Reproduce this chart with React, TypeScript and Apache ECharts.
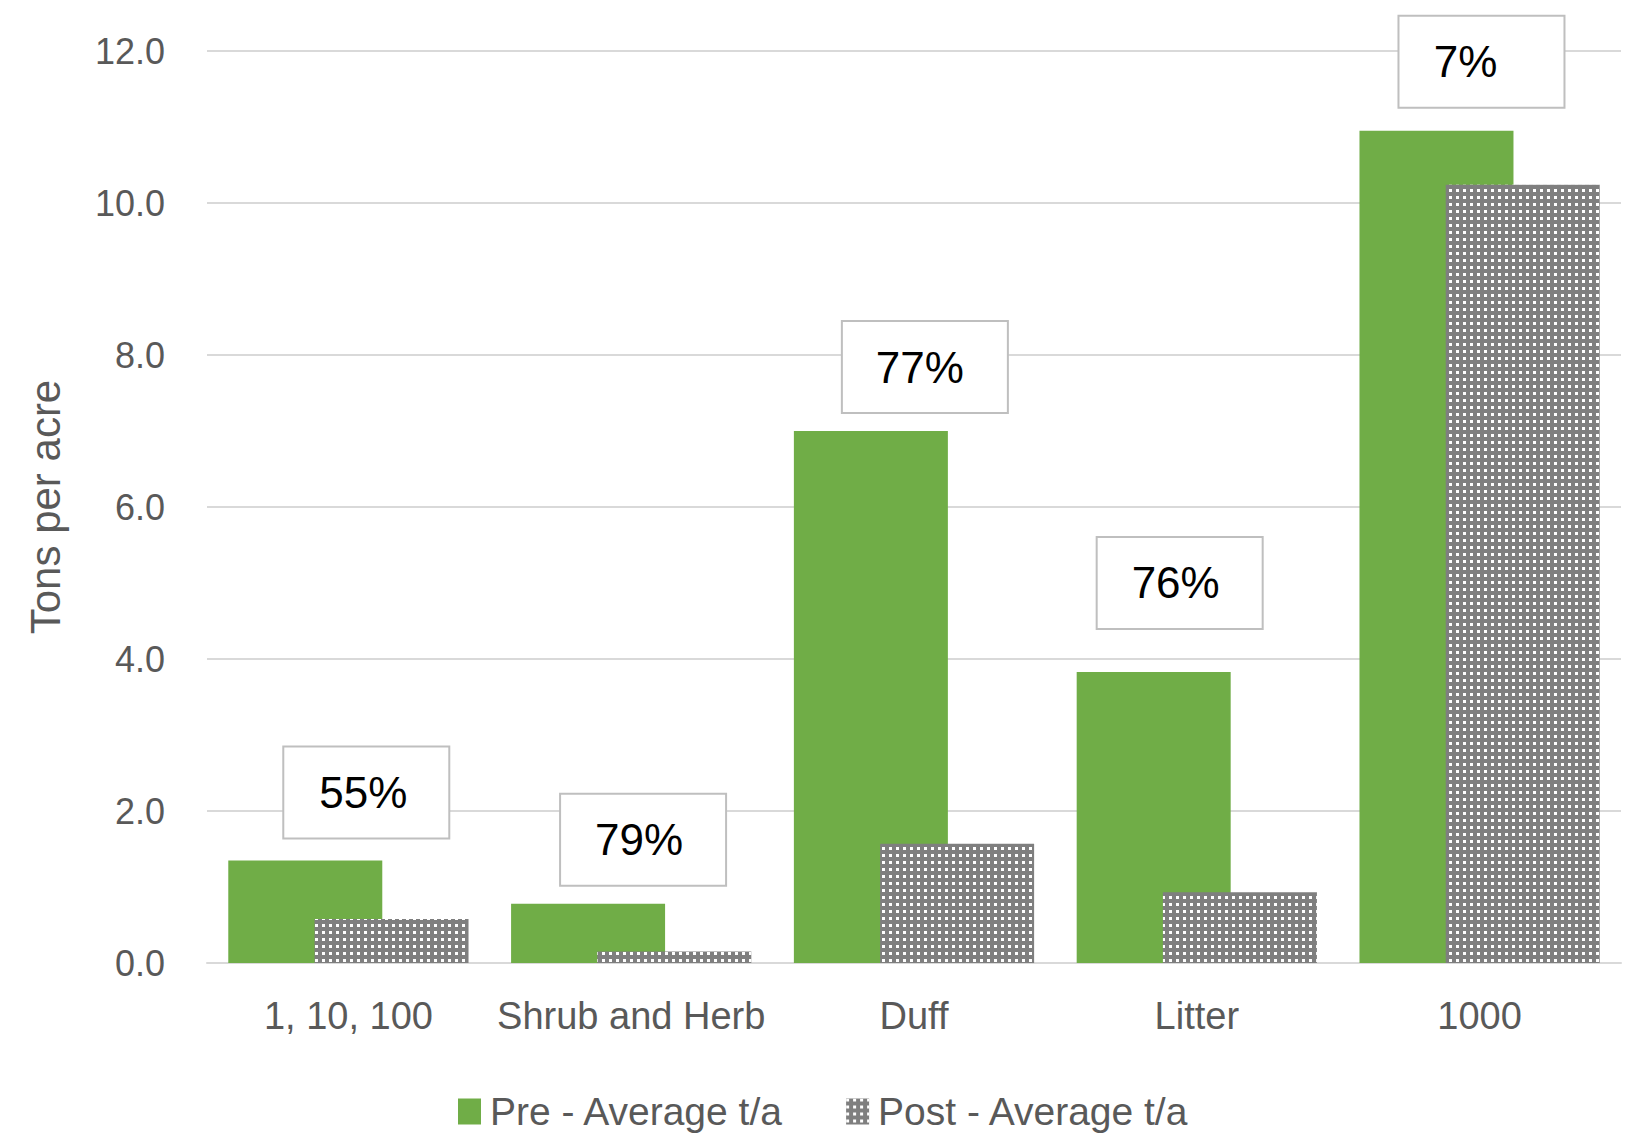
import React, { useEffect, useRef } from "react";
import * as echarts from "echarts";

const categories = ["1, 10, 100", "Shrub and Herb", "Duff", "Litter", "1000"];
const preValues = [1.35, 0.78, 7.0, 3.83, 10.95];
const postValues = [0.58, 0.15, 1.57, 0.93, 10.24];
const reductionLabels = ["55%", "79%", "77%", "76%", "7%"];
const yTicks = { min: 0, max: 12, interval: 2 };
const seriesNames = ["Pre - Average t/a", "Post - Average t/a"];

// label box placement (offset from top-centre of the green bar)
const labelOffsets: [number, number][] = [
  [61, -23],
  [55, -19],
  [54, -19],
  [26, -44],
  [45, -24],
];
// shift of the text to the left inside its box
const textShifts = [3, 4, 5, 4, 16];

const FONT = "'Liberation Sans', Arial, sans-serif";
const BOX_W = 164;

export default function App() {
  const ref = useRef<HTMLDivElement>(null);
  useEffect(() => {
    if (!ref.current) return;
    const chart = echarts.init(ref.current, undefined, { renderer: "svg" });
    chart.setOption({
      animation: false,
      backgroundColor: "#ffffff",
      textStyle: { fontFamily: FONT },
      grid: { left: 207, right: 7, top: 51, bottom: 171, containLabel: false },
      legend: {
        data: seriesNames.map((n) => ({ name: n, icon: "rect" })),
        left: 458,
        top: 1092,
        itemWidth: 23,
        itemHeight: 26,
        itemGap: 62,
        padding: 0,
        textStyle: { fontSize: 39, color: "#595959", fontFamily: FONT, padding: [0, 0, 0, 4] },
      },
      xAxis: {
        type: "category",
        data: categories,
        axisLine: { lineStyle: { color: "#d9d9d9", width: 2 } },
        axisTick: { show: false },
        axisLabel: { fontSize: 38, color: "#595959", margin: 34, fontFamily: FONT, interval: 0 },
      },
      yAxis: {
        type: "value",
        min: yTicks.min,
        max: yTicks.max,
        interval: yTicks.interval,
        name: "Tons per acre",
        nameLocation: "middle",
        nameGap: 141,
        nameRotate: 90,
        nameTextStyle: { fontSize: 42, color: "#595959", fontFamily: FONT },
        axisLine: { show: false },
        axisTick: { show: false },
        splitLine: { lineStyle: { color: "#d9d9d9", width: 2 } },
        axisLabel: {
          fontSize: 36,
          color: "#595959",
          margin: 42,
          fontFamily: FONT,
          formatter: (v: number) => v.toFixed(1),
        },
      },
      series: [
        {
          name: seriesNames[0],
          type: "bar",
          barWidth: 154,
          barGap: "-44%",
          itemStyle: { color: "#70ad47" },
          data: preValues.map((v, i) => ({
            value: v,
            label: {
              offset: labelOffsets[i],
              formatter: reductionLabels[i],
              width: BOX_W - 2 * textShifts[i],
              padding: [0, 2 * textShifts[i], 0, 0],
            },
          })),
          label: {
            show: true,
            position: "top",
            distance: 0,
            fontSize: 44,
            color: "#000000",
            fontFamily: FONT,
            backgroundColor: "#ffffff",
            borderColor: "#bfbfbf",
            borderWidth: 2,
            width: BOX_W,
            height: 90,
            lineHeight: 90,
            align: "center",
            verticalAlign: "bottom",
          },
          z: 2,
        },
        {
          name: seriesNames[1],
          type: "bar",
          barWidth: 154,
          itemStyle: {
            color: "#7f7f7f",
            decal: {
              symbol: "rect",
              symbolSize: 1,
              color: "#ffffff",
              dashArrayX: [3, 4],
              dashArrayY: [3, 4],
              rotation: 0,
            },
          },
          data: postValues,
          z: 3,
        },
      ],
    });
    return () => chart.dispose();
  }, []);
  return (
    <div
      ref={ref}
      style={{ position: "fixed", left: 0, top: 0, width: 1628, height: 1134, background: "#fff" }}
    />
  );
}
